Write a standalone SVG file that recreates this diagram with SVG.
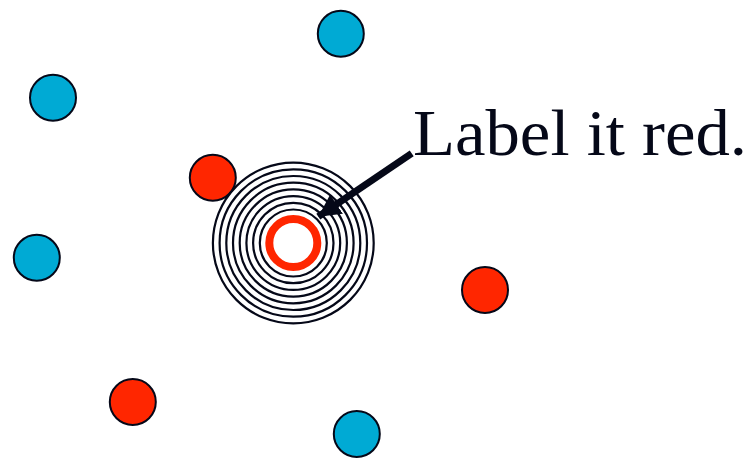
<svg xmlns="http://www.w3.org/2000/svg" width="753" height="458" viewBox="0 0 753 458">
<style>
.dot{stroke:#050818;stroke-width:2}
.blue{fill:#00AAD4}
.red{fill:#FF2600}
.ring{fill:none;stroke:#050818;stroke-width:2.2}
.label{font-family:"Liberation Serif","DejaVu Serif",serif;font-size:66px;fill:#050818}
</style>
<defs>
<marker id="arrow" markerUnits="userSpaceOnUse" markerWidth="24" markerHeight="24" refX="22" refY="11.5" orient="auto" viewBox="0 0 24 24">
<path d="M0,0 L22,11.5 L0,23 Z" fill="#050818"/>
</marker>
</defs>
<rect width="753" height="458" fill="#ffffff"/>
<g id="blue-top"><circle class="dot blue" cx="340.8" cy="33.8" r="23"/></g>
<g id="blue-left"><circle class="dot blue" cx="53" cy="97.8" r="23"/></g>
<g id="red-near"><circle class="dot red" cx="212.8" cy="177.8" r="23"/></g>
<g id="blue-left-lower"><circle class="dot blue" cx="36.8" cy="257.8" r="23"/></g>
<g id="red-right"><circle class="dot red" cx="485" cy="290" r="23"/></g>
<g id="red-bottom"><circle class="dot red" cx="132.8" cy="402" r="23"/></g>
<g id="blue-bottom"><circle class="dot blue" cx="356.8" cy="434" r="23"/></g>
<g id="target">
<circle class="ring" cx="293.3" cy="243" r="80.4"/>
<circle class="ring" cx="293.3" cy="243" r="73.7"/>
<circle class="ring" cx="293.3" cy="243" r="67"/>
<circle class="ring" cx="293.3" cy="243" r="60.3"/>
<circle class="ring" cx="293.3" cy="243" r="53.6"/>
<circle class="ring" cx="293.3" cy="243" r="46.9"/>
<circle class="ring" cx="293.3" cy="243" r="40.2"/>
<circle class="ring" cx="293.3" cy="243" r="33.5"/>
<circle cx="293.3" cy="243" r="24" fill="#ffffff" stroke="#FF2600" stroke-width="8"/>
</g>
<g id="connectors">
<line x1="411.7" y1="153.3" x2="318.3" y2="216.7" stroke="#050818" stroke-width="7" marker-end="url(#arrow)"/>
</g>
<g id="label-node">
<text class="label" x="413" y="155" textLength="334" lengthAdjust="spacingAndGlyphs">Label it red.</text>
</g>
</svg>
